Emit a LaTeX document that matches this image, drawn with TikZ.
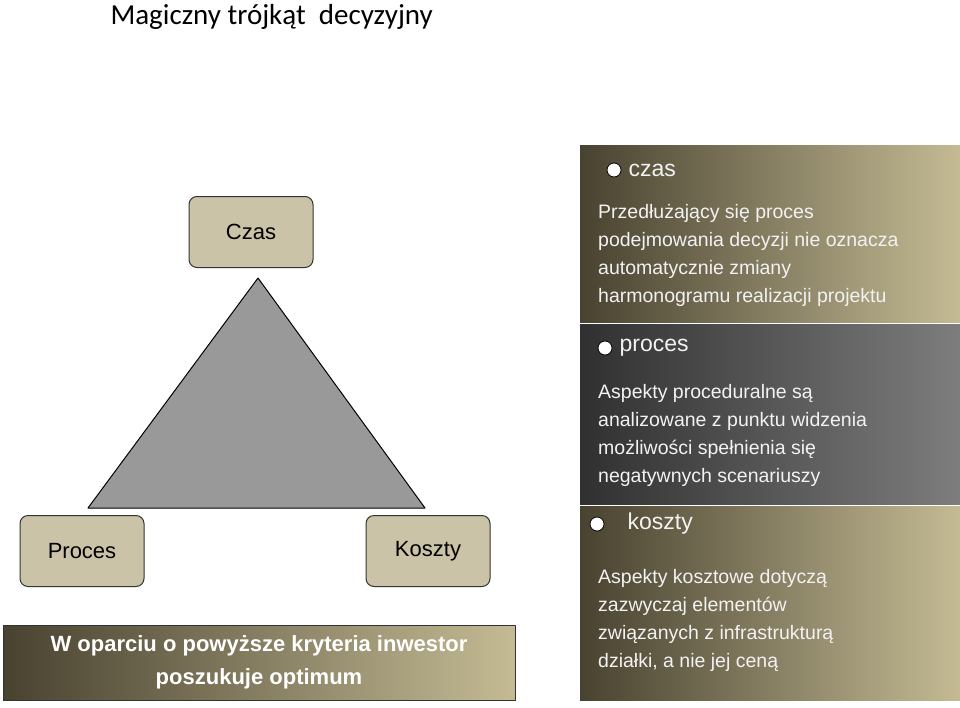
\documentclass[tikz,border=0pt]{standalone}
\usepackage{fontspec}
\setmainfont{Liberation Sans}
\newfontfamily\titlefont{Carlito}
\usetikzlibrary{positioning}
\definecolor{tan}{RGB}{203,195,167}
\definecolor{olive}{RGB}{72,66,48}
\definecolor{sand}{RGB}{196,187,148}
\definecolor{darkg}{RGB}{48,48,48}
\definecolor{lightg}{RGB}{125,125,125}
\definecolor{txt}{RGB}{242,242,242}
\begin{document}
\begin{tikzpicture}[x=1pt,y=-1pt,line join=round]
\useasboundingbox (0,0) rectangle (960,707);
\tikzset{cbox/.style={draw=black!80,line width=1pt,fill=tan,rounded corners=8pt,minimum width=124pt,minimum height=71pt,font=\fontsize{22}{26}\selectfont}}
\tikzset{body/.style={anchor=north west,align=left,text=txt,font=\fontsize{19.5}{28}\selectfont,inner sep=0pt}}
\tikzset{head/.style={anchor=west,text=txt,font=\fontsize{23}{26}\selectfont,inner sep=0pt}}
\tikzset{dot/.style={circle,draw=black,fill=white,line width=0.8pt,minimum size=14pt,inner sep=0pt}}
% title
\node[anchor=west,font=\titlefont\fontsize{29}{32}\selectfont] (title) at (107,17) {Magiczny trójkąt\ \ decyzyjny};
% triangle
\draw [line width=1pt,fill=black!40] (258,278)--(88,508)--(425,508)--cycle;
\node[cbox] (czas) at (251,232) {Czas};
\node[cbox] (proces) at (82,551) {Proces};
\node[cbox] (koszty) at (428,551) {Koszty};
% banner
\shade[left color=olive,right color=sand] (3,625) rectangle (515,700);
\draw[black!80,line width=1pt] (3,625) rectangle (515,700);
\node[align=center,text=white,font=\bfseries\fontsize{22}{33}\selectfont] (optimum) at (259,662) {W oparciu o powyższe kryteria inwestor\\poszukuje optimum};
% right panel
\shade[left color=olive,right color=sand] (580,145) rectangle (960,322);
\shade[left color=darkg,right color=lightg] (580,324) rectangle (960,504);
\shade[left color=olive,right color=sand] (580,506) rectangle (960,700);
\node[dot] (d1) at (614,170) {};
\node[head,right=7pt of d1] (h1) {czas};
\node[body] (b1) at (598,204) {Przedłużający się proces\\podejmowania decyzji nie oznacza\\automatycznie zmiany\\harmonogramu realizacji projektu};
\node[dot] (d2) at (605,348) {};
\node[head,right=7pt of d2] (h2) {proces};
\node[body] (b2) at (598,384) {Aspekty proceduralne są\\analizowane z punktu widzenia\\możliwości spełnienia się\\negatywnych scenariuszy};
\node[dot] (d3) at (597,524) {};
\node[head,right=23pt of d3] (h3) {koszty};
\node[body] (b3) at (598,569) {Aspekty kosztowe dotyczą\\zazwyczaj elementów\\związanych z infrastrukturą\\działki, a nie jej ceną};
\end{tikzpicture}
\end{document}
